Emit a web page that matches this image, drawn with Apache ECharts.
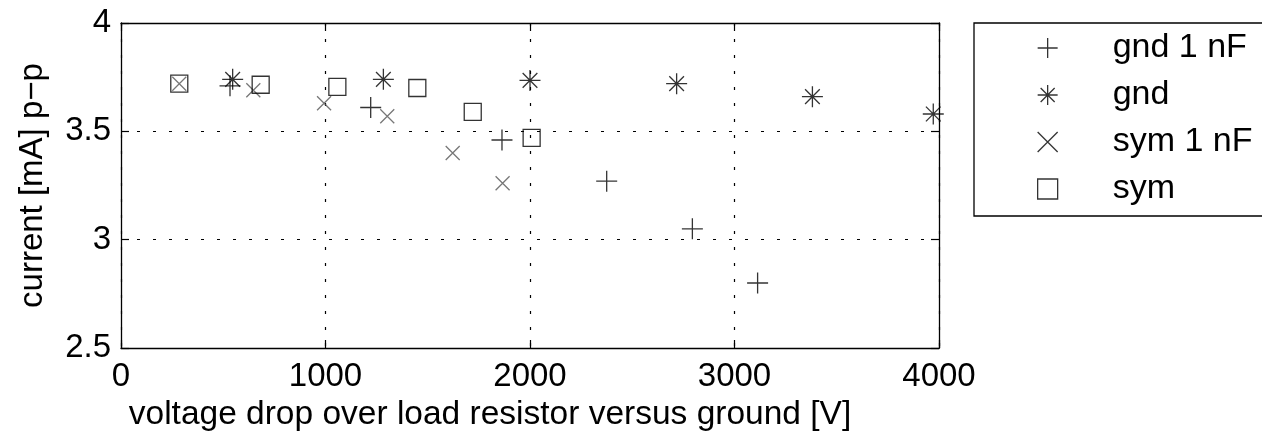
<!DOCTYPE html>
<html>
<head>
<meta charset="utf-8">
<script src="https://cdn.jsdelivr.net/npm/echarts@6/dist/echarts.min.js"></script>
<style>
  html, body { margin: 0; padding: 0; background: #fff; }
  #chart { width: 1262px; height: 443px; }
</style>
</head>
<body>
<div id="chart"></div>
<script>
// values
var gnd1nfX = [533, 1221, 1863, 2375, 2794, 3113];
var gnd1nfY = [3.71, 3.61, 3.46, 3.27, 3.05, 2.80];
var gndX = [546, 1283, 2000, 2717, 3381, 3972];
var gndY = [3.74, 3.74, 3.735, 3.72, 3.66, 3.58];
var sym1nfX = [285, 647, 993, 1302, 1622, 1866];
var sym1nfY = [3.72, 3.69, 3.63, 3.57, 3.40, 3.26];
var symX = [285, 683, 1058, 1449, 1720, 2008];
var symY = [3.72, 3.715, 3.705, 3.70, 3.59, 3.47];

var names = ['gnd 1 nF', 'gnd', 'sym 1 nF', 'sym'];

var FONT = '"Liberation Sans", Arial, sans-serif';

// marker shapes (stroked, not filled)
var PLUS = 'path://M0 5 L10 5 M5 0 L5 10';
var STAR = 'path://M0 5 L10 5 M5 0 L5 10 M1.5 1.5 L8.5 8.5 M1.5 8.5 L8.5 1.5';
var CROSS = 'path://M0 0 L10 10 M0 10 L10 0';
var SQUARE = 'rect';

function pts(xs, ys) {
  var out = [];
  for (var i = 0; i < xs.length; i++) out.push([xs[i], ys[i]]);
  return out;
}

function mk(name, data, symbol, size, color) {
  return {
    name: name,
    type: 'scatter',
    clip: false,
    symbol: symbol,
    symbolSize: size,
    itemStyle: {
      color: 'rgba(0,0,0,0)',
      borderColor: color,
      borderWidth: 1.3
    },
    emphasis: { disabled: true },
    data: data
  };
}

var chart = echarts.init(document.getElementById('chart'));

var tickStyle = { show: true, inside: true, length: 8, lineStyle: { color: '#000', width: 1.2 } };
var lineStyle = { show: true, onZero: false, lineStyle: { color: '#000', width: 1.3 } };

var option = {
  animation: false,
  backgroundColor: '#fff',
  textStyle: { fontFamily: FONT },
  grid: { left: 121, right: 323, top: 23, bottom: 95 },
  legend: {
    orient: 'vertical',
    left: 974,
    top: 23,
    data: names,
    backgroundColor: '#fff',
    borderColor: '#000',
    borderWidth: 1.3,
    borderRadius: 0,
    padding: [3, 40, 5, 63],
    itemWidth: 20,
    itemHeight: 20,
    itemGap: 3,
    itemStyle: { borderWidth: 1.3, borderColor: '#000' },
    textStyle: { fontFamily: FONT, fontSize: 34, color: '#000', lineHeight: 30, padding: [14, 0, 0, 50] },
    selectedMode: false
  },
  xAxis: [{
    type: 'value',
    min: 0, max: 4000, interval: 1000,
    position: 'bottom',
    axisLine: lineStyle,
    axisTick: tickStyle,
    axisLabel: { color: '#000', fontSize: 33, fontFamily: FONT, margin: 12, formatter: function (v) { return String(v); } },
    splitLine: { show: true, lineStyle: { color: '#000', type: [3, 13], width: 1.2 } },
    name: 'voltage drop over load resistor versus ground [V]',
    nameLocation: 'middle',
    nameGap: 49,
    nameTextStyle: { color: '#000', fontSize: 33.5, fontFamily: FONT, padding: [0, 80, 0, 0] }
  }, {
    type: 'value',
    min: 0, max: 4000, interval: 1000,
    position: 'top',
    axisLine: lineStyle,
    axisTick: tickStyle,
    axisLabel: { show: false },
    splitLine: { show: false }
  }],
  yAxis: [{
    type: 'value',
    min: 2.5, max: 4, interval: 0.5,
    position: 'left',
    axisLine: lineStyle,
    axisTick: tickStyle,
    axisLabel: { color: '#000', fontSize: 33, fontFamily: FONT, margin: 10 },
    splitLine: { show: true, lineStyle: { color: '#000', type: [3, 13], width: 1.2 } },
    name: 'current [mA] p\u2212p',
    nameLocation: 'middle',
    nameRotate: 90,
    nameGap: 72,
    nameTextStyle: { color: '#000', fontSize: 33, fontFamily: FONT }
  }, {
    type: 'value',
    min: 2.5, max: 4, interval: 0.5,
    position: 'right',
    axisLine: lineStyle,
    axisTick: tickStyle,
    axisLabel: { show: false },
    splitLine: { show: false }
  }],
  series: [
    mk(names[0], pts(gnd1nfX, gnd1nfY), PLUS, 21, '#000'),
    mk(names[1], pts(gndX, gndY), STAR, 21, '#000'),
    mk(names[2], pts(sym1nfX, sym1nfY), CROSS, 14, '#555'),
    mk(names[3], pts(symX, symY), SQUARE, 17, '#000')
  ]
};

chart.setOption(option);
</script>
</body>
</html>
